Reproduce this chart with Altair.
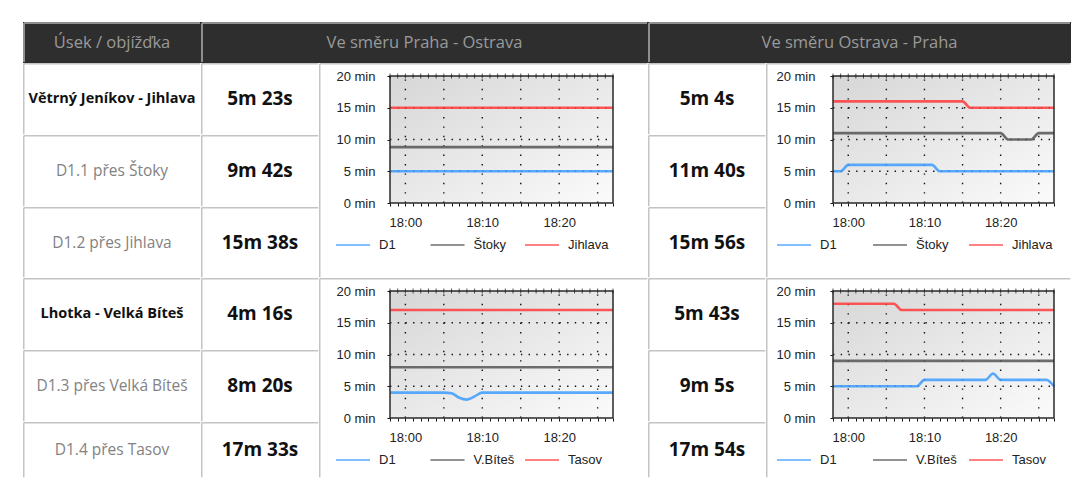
import altair as alt
import pandas as pd

# ---------------- data ----------------
header_labels = ["Úsek / objížďka", "Ve směru Praha - Ostrava", "Ve směru Ostrava - Praha"]
section_names = ["Větrný Jeníkov - Jihlava", "D1.1 přes Štoky", "D1.2 přes Jihlava",
                 "Lhotka - Velká Bíteš", "D1.3 přes Velká Bíteš", "D1.4 přes Tasov"]
main_rows = [True, False, False, True, False, False]
times_praha_ostrava = ["5m 23s", "9m 42s", "15m 38s", "4m 16s", "8m 20s", "17m 33s"]
times_ostrava_praha = ["5m 4s", "11m 40s", "15m 56s", "5m 43s", "9m 5s", "17m 54s"]

times = ["17:58", "17:59", "18:00", "18:01", "18:02", "18:03", "18:04", "18:05", "18:06", "18:07",
         "18:08", "18:09", "18:10", "18:11", "18:12", "18:13", "18:14", "18:15", "18:16", "18:17",
         "18:18", "18:19", "18:20", "18:21", "18:22", "18:23", "18:24", "18:25", "18:26", "18:27"]

series_block1 = ["D1", "Štoky", "Jihlava"]
series_block2 = ["D1", "V.Bíteš", "Tasov"]

po1_d1 = [5, 5, 5, 5, 5, 5, 5, 5, 5, 5, 5, 5, 5, 5, 5, 5, 5, 5, 5, 5, 5, 5, 5, 5, 5, 5, 5, 5, 5, 5]
po1_stoky = [8.8, 8.8, 8.8, 8.8, 8.8, 8.8, 8.8, 8.8, 8.8, 8.8, 8.8, 8.8, 8.8, 8.8, 8.8,
             8.8, 8.8, 8.8, 8.8, 8.8, 8.8, 8.8, 8.8, 8.8, 8.8, 8.8, 8.8, 8.8, 8.8, 8.8]
po1_jihlava = [15, 15, 15, 15, 15, 15, 15, 15, 15, 15, 15, 15, 15, 15, 15, 15, 15, 15, 15, 15,
               15, 15, 15, 15, 15, 15, 15, 15, 15, 15]

op1_d1 = [5, 5, 6, 6, 6, 6, 6, 6, 6, 6, 6, 6, 6, 6, 5, 5, 5, 5, 5, 5, 5, 5, 5, 5, 5, 5, 5, 5, 5, 5]
op1_stoky = [11, 11, 11, 11, 11, 11, 11, 11, 11, 11, 11, 11, 11, 11, 11, 11, 11, 11, 11, 11,
             11, 11, 11, 10, 10, 10, 10, 11, 11, 11]
op1_jihlava = [16, 16, 16, 16, 16, 16, 16, 16, 16, 16, 16, 16, 16, 16, 16, 16, 16, 16, 15, 15,
               15, 15, 15, 15, 15, 15, 15, 15, 15, 15]

po2_d1 = [4, 4, 4, 4, 4, 4, 4, 4, 3.9, 3.2, 2.9, 3.4, 4, 4, 4, 4, 4, 4, 4, 4,
          4, 4, 4, 4, 4, 4, 4, 4, 4, 4]
po2_vbites = [8, 8, 8, 8, 8, 8, 8, 8, 8, 8, 8, 8, 8, 8, 8, 8, 8, 8, 8, 8, 8, 8, 8, 8, 8, 8, 8, 8, 8, 8]
po2_tasov = [17, 17, 17, 17, 17, 17, 17, 17, 17, 17, 17, 17, 17, 17, 17, 17, 17, 17, 17, 17,
             17, 17, 17, 17, 17, 17, 17, 17, 17, 17]

op2_d1 = [5, 5, 5, 5, 5, 5, 5, 5, 5, 5, 5, 5, 6, 6, 6, 6, 6, 6, 6, 6, 6, 7, 6, 6, 6, 6, 6, 6, 6, 5]
op2_vbites = [9, 9, 9, 9, 9, 9, 9, 9, 9, 9, 9, 9, 9, 9, 9, 9, 9, 9, 9, 9, 9, 9, 9, 9, 9, 9, 9, 9, 9, 9]
op2_tasov = [18, 18, 18, 18, 18, 18, 18, 18, 18, 17, 17, 17, 17, 17, 17, 17, 17, 17, 17, 17,
             17, 17, 17, 17, 17, 17, 17, 17, 17, 17]

grid_times = ["18:00", "18:05", "18:10", "18:15", "18:20", "18:25"]
grid_values = [5, 10, 15]
y_tick_values = [0, 5, 10, 15, 20]
y_max = 20

# ---------------- style / layout ----------------
BORDER = "#c4c4c4"
HEAD_BORDER = "#8f8f8f"
FONT = "Open Sans"
CHART_FONT = "Liberation Sans"
SERIES_COLORS = ["#3d9cff", "#555555", "#ff3b3b"]
COL_W = [178, 118, 329, 118, 305]
HEAD_H = 41
ROW_H = [[72, 72, 71], [72, 72, 56]]
TEXT_Y = 36
PLOT_TOP, PLOT_BOTTOM = 13, 140
ONE = pd.DataFrame({"a": [0]})


def iso(t):
    return f"2024-01-01T{t}:00"


def dt(t):
    h, m = t.split(":")
    return alt.DateTime(year=2024, month=1, date=1, hours=int(h), minutes=int(m))


def borders(w, h, color, sw):
    """left and top cell borders drawn fully inside the cell"""
    left = alt.Chart(ONE).mark_rule(color=color, strokeWidth=sw).encode(
        x=alt.value(sw / 2), y=alt.value(sw / 2), y2=alt.value(h - sw / 2))
    top = alt.Chart(ONE).mark_rule(color=color, strokeWidth=sw).encode(
        y=alt.value(sw / 2), x=alt.value(sw / 2), x2=alt.value(w - sw / 2))
    return [left, top]


def view(fill):
    return alt.ViewBackground(fill=fill, stroke="transparent", strokeWidth=0)


def text_cell(label, w, h, size, weight, color, fill="white", border=BORDER, sw=1.5):
    txt = alt.Chart(pd.DataFrame({"label": [label]})).mark_text(
        font=FONT, fontSize=size, fontWeight=weight, color=color,
        align="center", baseline="middle"
    ).encode(text="label:N", x=alt.value(w / 2), y=alt.value(min(h / 2, TEXT_Y)))
    return alt.layer(txt, *borders(w, h, border, sw)).properties(
        width=w, height=h, view=view(fill))


def mini_chart(names, vals, W, H, left, right, label_pad, legend_x, legend_gap):
    rows = []
    for n, vs in zip(names, vals):
        for t, v in zip(times, vs):
            rows.append({"t": iso(t), "v": v, "s": n})
    df = pd.DataFrame(rows)
    t0, t1 = times[0], times[-1]
    bg_df = pd.DataFrame({"t": [iso(t0)], "t1": [iso(t1)], "v": [0], "v1": [y_max]})
    vg_df = pd.DataFrame({"t": [iso(t) for t in grid_times], "v": 0, "v1": y_max})
    hg_df = pd.DataFrame({"v": grid_values, "t": iso(t0), "t1": iso(t1)})
    tk_df = pd.DataFrame({"t": [iso(t) for t in times], "v": y_max})

    xs = alt.Scale(domain=[dt(t0), dt(t1)], range=[left, right], nice=False)
    ys = alt.Scale(domain=[0, y_max], range=[PLOT_BOTTOM, PLOT_TOP], nice=False)

    xaxis = alt.Axis(
        values=[dt(t) for t in times],
        labelExpr="minutes(datum.value) % 10 == 0 ? timeFormat(datum.value, '%H:%M') : ''",
        offset=PLOT_BOTTOM - H, domain=False, grid=False, tickSize=3, tickColor="#111",
        labelFont=CHART_FONT, labelFontSize=13, labelColor="#222", labelPadding=10,
        labelOverlap=False, labelFlush=False, title=None)
    yaxis = alt.Axis(
        values=y_tick_values, labelExpr="datum.value + ' min'",
        offset=-left, domain=False, grid=False, tickSize=3, tickColor="#111",
        labelFont=CHART_FONT, labelFontSize=13, labelColor="#222", labelPadding=label_pad,
        title=None)
    X = alt.X("t:T", scale=xs, axis=xaxis, title=None)
    Y = alt.Y("v:Q", scale=ys, axis=yaxis, title=None)

    grad = alt.LinearGradient(
        gradient="linear", x1=0, y1=0, x2=1, y2=1,
        stops=[alt.GradientStop(color="#d6d6d6", offset=0),
               alt.GradientStop(color="#fbfbfb", offset=1)])

    bg = alt.Chart(bg_df).mark_rect(fill=grad).encode(x=X, x2="t1:T", y=Y, y2="v1:Q")
    vgrid = alt.Chart(vg_df).mark_rule(color="#111", strokeWidth=1.4, strokeDash=[1.4, 8]).encode(
        x=X, y=Y, y2="v1:Q")
    hgrid = alt.Chart(hg_df).mark_rule(color="#111", strokeWidth=1.4, strokeDash=[1.4, 6.3]).encode(
        y=Y, x=X, x2="t1:T")
    lines = alt.Chart(df).mark_line(interpolate="monotone", strokeWidth=2.6, opacity=0.85).encode(
        x=X, y=Y,
        color=alt.Color("s:N", scale=alt.Scale(domain=names, range=SERIES_COLORS),
                        legend=alt.Legend(
                            orient="none", legendX=legend_x, legendY=164,
                            direction="horizontal", columns=3, gridAlign="all",
                            columnPadding=legend_gap, title=None, padding=0,
                            symbolType="stroke", symbolSize=1156, symbolStrokeWidth=1.5,
                            labelFont=CHART_FONT, labelFontSize=13, labelColor="#222",
                            labelOffset=8)))
    border = alt.Chart(bg_df).mark_rect(fill="transparent", stroke="#2a2a2a", strokeWidth=1.5).encode(
        x=X, x2="t1:T", y=Y, y2="v1:Q")
    ticks = alt.Chart(tk_df).mark_tick(orient="vertical", size=5, thickness=1, color="#111").encode(
        x=X, y=Y)
    return alt.layer(bg, vgrid, hgrid, lines, border, ticks, *borders(W, H, BORDER, 1.5)).properties(
        width=W, height=H, view=view("white"))


def name_cell(i, h):
    if main_rows[i]:
        return text_cell(section_names[i], COL_W[0], h, 14.5, "bold", "#111")
    return text_cell(section_names[i], COL_W[0], h, 15.5, "normal", "#828282")


def time_cell(label, h):
    return text_cell(label, COL_W[1], h, 19, "bold", "#111")


def head_cell(label, w):
    return text_cell(label, w, HEAD_H, 16.5, "normal", "#9a9a9a", fill="#2e2e2e",
                     border=HEAD_BORDER, sw=2)


header = alt.hconcat(
    head_cell(header_labels[0], COL_W[0]),
    head_cell(header_labels[1], COL_W[1] + COL_W[2]),
    head_cell(header_labels[2], COL_W[3] + COL_W[4]),
    spacing=0)

blocks = []
for b, (vals_po, vals_op, names) in enumerate([
        ([po1_d1, po1_stoky, po1_jihlava], [op1_d1, op1_stoky, op1_jihlava], series_block1),
        ([po2_d1, po2_vbites, po2_tasov], [op2_d1, op2_vbites, op2_tasov], series_block2)]):
    hs = ROW_H[b]
    H = sum(hs)
    idx = [3 * b + k for k in range(3)]
    left_col = alt.vconcat(*[
        alt.hconcat(name_cell(i, h), time_cell(times_praha_ostrava[i], h), spacing=0)
        for i, h in zip(idx, hs)], spacing=0)
    mid_col = alt.vconcat(*[time_cell(times_ostrava_praha[i], h) for i, h in zip(idx, hs)], spacing=0)
    blocks.append(alt.hconcat(
        left_col,
        mini_chart(names, vals_po, COL_W[2], H, 71, 294, 12, 16, 7.5),
        mid_col,
        mini_chart(names, vals_op, COL_W[4], H, 67, 288, 15, 10, 9),
        spacing=0).resolve_scale(color="independent"))

chart = alt.vconcat(header, *blocks, spacing=0).resolve_scale(color="independent").properties(
    padding={"left": 15, "top": 14, "right": 0, "bottom": 0},
    background="white")

chart.save("out.html", embed_options={"renderer": "svg", "actions": False})
